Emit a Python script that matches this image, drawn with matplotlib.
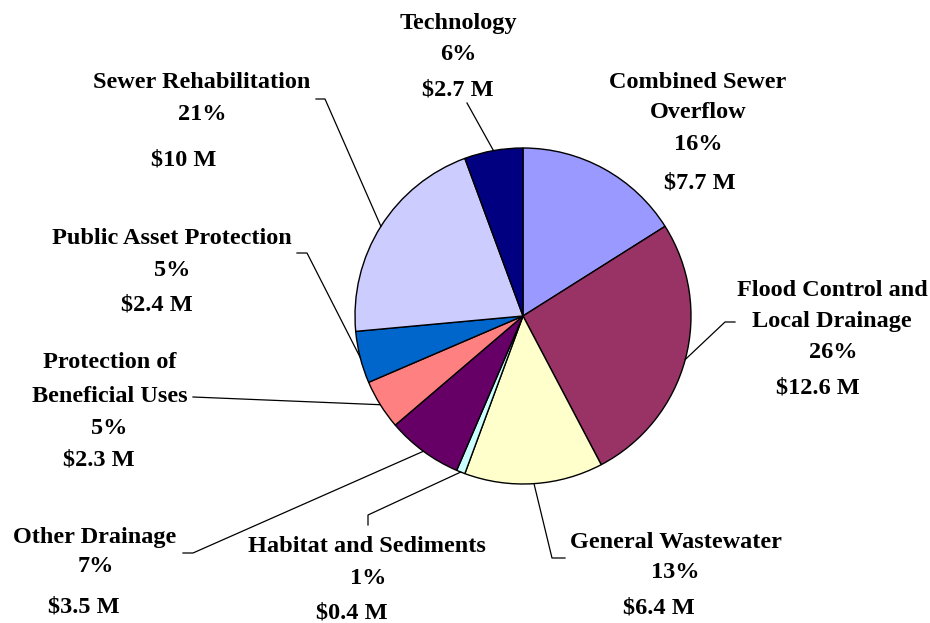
import numpy as np
import matplotlib.pyplot as plt

W, H = 930, 623

# budget by program area, $ millions (clockwise from 12 o'clock)
names = ['Combined Sewer\nOverflow', 'Flood Control and\nLocal Drainage',
         'General Wastewater', 'Habitat and Sediments', 'Other Drainage',
         'Protection of\nBeneficial Uses', 'Public Asset Protection',
         'Sewer Rehabilitation', 'Technology']
amounts = [7.7, 12.6, 6.4, 0.4, 3.5, 2.3, 2.4, 10, 2.7]
colors = ['#9999FF', '#993366', '#FFFFCC', '#CCFFFF', '#660066',
          '#FF8080', '#0066CC', '#CCCCFF', '#000080']

# label layout in pixels (top-left origin):
# name x, name line ys, pct (x, y), value (x, y), leader elbow points
layout = [
    (698, [82, 113], (698, 145), (700, 183), []),
    (832, [290, 322], (833, 353), (818, 388), [(735, 322), (725, 322)]),
    (676, [542], (675, 573), (659, 608), [(565, 558), (552, 558)]),
    (367, [547], (368, 578), (352, 613), [(368, 525), (368, 515)]),
    (95, [538], (96, 567), (84, 607), [(183, 553), (193, 553)]),
    (110, [363, 397], (109, 428), (99, 460), [(193, 397)]),
    (172, [238], (172, 270), (157, 305), [(297, 253), (307, 253)]),
    (202, [83], (202, 115), (184, 160), [(316, 99), (325, 99)]),
    (458, [23], (458, 55), (458, 90), [(467, 103)]),
]

fig = plt.figure(figsize=(W / 100, H / 100), dpi=100)
ax = fig.add_axes([0, 0, 1, 1])
ax.set_xlim(0, W)
ax.set_ylim(0, H)
ax.set_aspect('equal')
ax.axis('off')

cx, cy, r = 523, H - 316, 168
wedges, _ = ax.pie(amounts, colors=colors, startangle=90, counterclock=False,
                   center=(cx, cy), radius=r, frame=True,
                   wedgeprops=dict(edgecolor='black', linewidth=1))
ax.set_xlim(0, W)
ax.set_ylim(0, H)
ax.axis('off')

font = dict(family=['Liberation Serif', 'DejaVu Serif'], weight='bold',
            size=17.5, ha='center', va='center', color='black')
total = sum(amounts)

for w, name, amt, (nx, nys, pct, val, elbow) in zip(wedges, names, amounts, layout):
    for line, ny in zip(name.split('\n'), nys):
        ax.text(nx, H - ny, line, **font)
    ax.text(pct[0], H - pct[1], '%d%%' % round(amt / total * 100), **font)
    ax.text(val[0], H - val[1], '$%g M' % amt, **font)
    if elbow:
        mid = np.deg2rad((w.theta1 + w.theta2) / 2)
        ex, ey = cx + r * np.cos(mid), cy + r * np.sin(mid)
        xs = [p[0] for p in elbow] + [ex]
        ys = [H - p[1] for p in elbow] + [ey]
        ax.plot(xs, ys, color='black', lw=0.9)

fig.savefig('out.png', dpi=100, facecolor='white')
